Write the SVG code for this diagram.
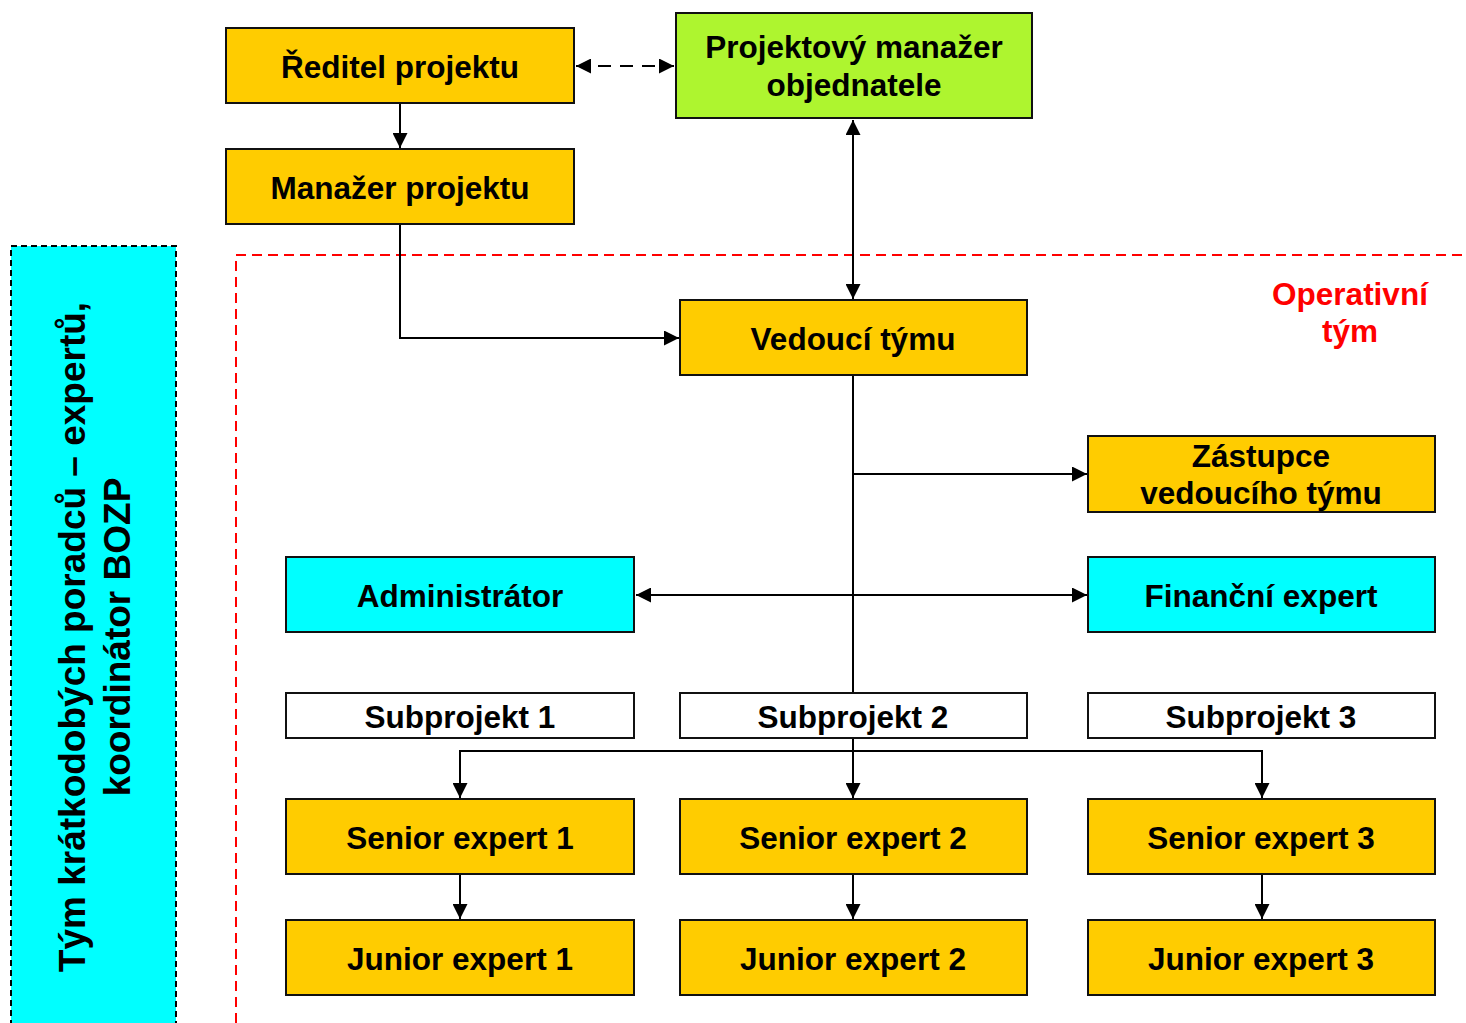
<svg xmlns="http://www.w3.org/2000/svg" width="1466" height="1023" viewBox="0 0 1466 1023">
  <style>
    .box { stroke: #111; stroke-width: 2; }
    .y { fill: #FFCC00; }
    .g { fill: #AEF52F; }
    .c { fill: #00FFFF; }
    .w { fill: #FFFFFF; }
    .t { font-family: "Liberation Sans", Arial, sans-serif; font-weight: bold; font-size: 31.5px; fill: #000; text-anchor: middle; }
    .red { fill: #FF0000; }
    .conn { stroke: #000; stroke-width: 2; fill: none; }
  </style>
  <defs>
    <marker id="ah" viewBox="0 0 10 10" refX="10" refY="5" markerWidth="15" markerHeight="15" markerUnits="userSpaceOnUse" orient="auto-start-reverse">
      <path d="M0,0 L10,5 L0,10 z" fill="#000"/>
    </marker>
  </defs>

  <!-- left side panel -->
  <g id="side-team">
    <rect x="11" y="246" width="165" height="790" fill="#00FFFF" stroke="#000" stroke-width="2" stroke-dasharray="6 4"/>
    <g transform="translate(0,637) rotate(-90)">
      <text class="t" x="0" y="85" style="font-size:37px">Tým krátkodobých poradců – expertů,</text>
      <text class="t" x="0" y="130" style="font-size:37px">koordinátor BOZP</text>
    </g>
  </g>

  <!-- operative team region -->
  <g id="operative-team">
    <path d="M236,1023 L236,255 L1466,255" fill="none" stroke="#FF0000" stroke-width="2" stroke-dasharray="10 6"/>
    <text class="t red" x="1350" y="305">Operativní</text>
    <text class="t red" x="1350" y="342">tým</text>
  </g>

  <g id="connectors">
    <line class="conn" x1="576" y1="66" x2="674" y2="66" stroke-width="2.5" stroke-dasharray="13 9" marker-start="url(#ah)" marker-end="url(#ah)"/>
    <line class="conn" x1="400" y1="104" x2="400" y2="148" marker-end="url(#ah)"/>
    <polyline class="conn" points="400,225 400,338 679,338" marker-end="url(#ah)"/>
    <line class="conn" x1="853" y1="120" x2="853" y2="299" marker-start="url(#ah)" marker-end="url(#ah)"/>
    <line class="conn" x1="853" y1="376" x2="853" y2="693"/>
    <line class="conn" x1="853" y1="474" x2="1087" y2="474" marker-end="url(#ah)"/>
    <line class="conn" x1="636" y1="595" x2="1087" y2="595" marker-start="url(#ah)" marker-end="url(#ah)"/>
    <line class="conn" x1="853" y1="739" x2="853" y2="798" marker-end="url(#ah)"/>
    <polyline class="conn" points="460,798 460,751 1262,751 1262,798" marker-start="url(#ah)" marker-end="url(#ah)"/>
    <line class="conn" x1="460" y1="875" x2="460" y2="919" marker-end="url(#ah)"/>
    <line class="conn" x1="853" y1="875" x2="853" y2="919" marker-end="url(#ah)"/>
    <line class="conn" x1="1262" y1="875" x2="1262" y2="919" marker-end="url(#ah)"/>
  </g>

  <g id="reditel">
    <rect class="box y" x="226" y="28" width="348" height="75"/>
    <text class="t" x="400" y="78">Ředitel projektu</text>
  </g>
  <g id="manazer">
    <rect class="box y" x="226" y="149" width="348" height="75"/>
    <text class="t" x="400" y="199">Manažer projektu</text>
  </g>
  <g id="pm-objednatele">
    <rect class="box g" x="676" y="13" width="356" height="105"/>
    <text class="t" x="854" y="58">Projektový manažer</text>
    <text class="t" x="854" y="96">objednatele</text>
  </g>
  <g id="vedouci">
    <rect class="box y" x="680" y="300" width="347" height="75"/>
    <text class="t" x="853" y="350">Vedoucí týmu</text>
  </g>
  <g id="zastupce">
    <rect class="box y" x="1088" y="436" width="347" height="76"/>
    <text class="t" x="1261" y="467">Zástupce</text>
    <text class="t" x="1261" y="504">vedoucího týmu</text>
  </g>
  <g id="administrator">
    <rect class="box c" x="286" y="557" width="348" height="75"/>
    <text class="t" x="460" y="607">Administrátor</text>
  </g>
  <g id="financni">
    <rect class="box c" x="1088" y="557" width="347" height="75"/>
    <text class="t" x="1261" y="607">Finanční expert</text>
  </g>
  <g id="subprojekt1">
    <rect class="box w" x="286" y="693" width="348" height="45"/>
    <text class="t" x="460" y="728">Subprojekt 1</text>
  </g>
  <g id="subprojekt2">
    <rect class="box w" x="680" y="693" width="347" height="45"/>
    <text class="t" x="853" y="728">Subprojekt 2</text>
  </g>
  <g id="subprojekt3">
    <rect class="box w" x="1088" y="693" width="347" height="45"/>
    <text class="t" x="1261" y="728">Subprojekt 3</text>
  </g>
  <g id="senior1">
    <rect class="box y" x="286" y="799" width="348" height="75"/>
    <text class="t" x="460" y="849">Senior expert 1</text>
  </g>
  <g id="senior2">
    <rect class="box y" x="680" y="799" width="347" height="75"/>
    <text class="t" x="853" y="849">Senior expert 2</text>
  </g>
  <g id="senior3">
    <rect class="box y" x="1088" y="799" width="347" height="75"/>
    <text class="t" x="1261" y="849">Senior expert 3</text>
  </g>
  <g id="junior1">
    <rect class="box y" x="286" y="920" width="348" height="75"/>
    <text class="t" x="460" y="970">Junior expert 1</text>
  </g>
  <g id="junior2">
    <rect class="box y" x="680" y="920" width="347" height="75"/>
    <text class="t" x="853" y="970">Junior expert 2</text>
  </g>
  <g id="junior3">
    <rect class="box y" x="1088" y="920" width="347" height="75"/>
    <text class="t" x="1261" y="970">Junior expert 3</text>
  </g>
</svg>
